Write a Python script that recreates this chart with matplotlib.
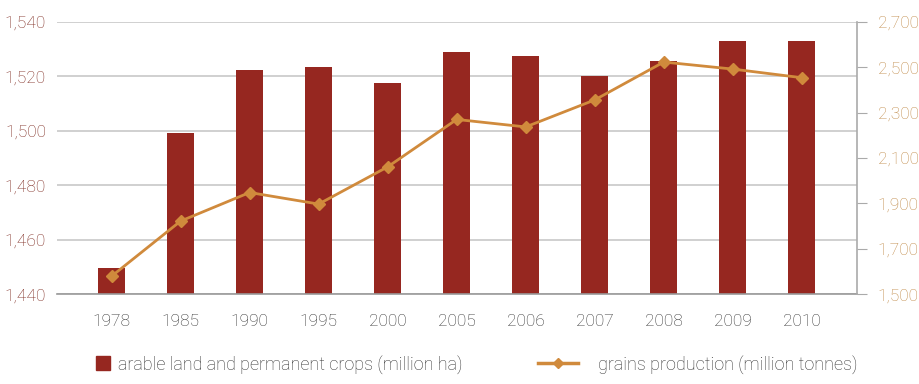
import matplotlib.pyplot as plt
import numpy as np
from matplotlib.lines import Line2D

# Datos
anios = ['1978', '1985', '1990', '1995', '2000', '2005', '2006', '2007', '2008', '2009', '2010']
tierra = [1449.7, 1499.1, 1522.4, 1523.5, 1517.5, 1529.1, 1527.6, 1520.3, 1525.7, 1533.1, 1533.1]
granos = [1579, 1822, 1948, 1897, 2061, 2270, 2237, 2356, 2523, 2492, 2454]

ticks_izq = [1440, 1460, 1480, 1500, 1520, 1540]
ticks_der = [1500, 1700, 1900, 2100, 2300, 2500, 2700]

rojo = '#962720'
naranja = '#D08A3C'
rojo_txt = '#7E2A20'
naranja_txt = '#C08A48'
gris = '#C8C8C8'

plt.rcParams['font.family'] = ['Roboto', 'DejaVu Sans']

fig = plt.figure(figsize=(9.2, 3.84), dpi=100)
ax = fig.add_axes([0.062, 0.234, 0.8695, 0.709])
x = np.arange(len(anios))

ax.bar(x, tierra, width=0.39, color=rojo, zorder=3)
ax.set_ylim(1440, 1540)
ax.set_xlim(-0.79, 10.8)
ax.set_yticks(ticks_izq)
ax.set_yticklabels([f'{v:,}' for v in ticks_izq], color=rojo_txt, fontsize=12.5, fontweight='light')
ax.set_xticks(x)
ax.set_xticklabels(anios, color='#333333', fontsize=12.5, fontweight='light')
ax.tick_params(axis='y', length=0, pad=8)
ax.tick_params(axis='x', length=0, pad=14)
ax.grid(axis='y', color=gris, linewidth=1.2, zorder=0)
for s in ['top', 'left', 'right']:
    ax.spines[s].set_visible(False)
ax.spines['bottom'].set_color('#999999')
ax.spines['bottom'].set_linewidth(1.2)
ax.spines['bottom'].set_zorder(4)

ax2 = ax.twinx()
ax2.plot(x, granos, color=naranja, linewidth=2, marker='D', markersize=6, zorder=5)
ax2.set_ylim(1500, 2700)
ax2.set_yticks(ticks_der)
ax2.set_yticklabels([f'{v:,}' for v in ticks_der], color=naranja_txt, fontsize=12.5, fontweight='light')
ax2.tick_params(axis='y', length=7, color='#AAAAAA', pad=8)
for s in ['top', 'left', 'bottom']:
    ax2.spines[s].set_visible(False)
ax2.spines['right'].set_color('#AAAAAA')
ax2.spines['right'].set_linewidth(1.2)

# Leyendas
h1 = Line2D([], [], color=rojo, marker='s', linestyle='none', markersize=9.5)
h2 = Line2D([], [], color=naranja, linewidth=2.5, marker='D', markersize=5)
prop = {'weight': 'light', 'size': 13}
leg1 = fig.legend([h1], ['arable land and permanent crops (million ha)'], loc='center left',
                  bbox_to_anchor=(0.104, 0.052), frameon=False, prop=prop, borderpad=0,
                  borderaxespad=0, handlelength=0.8, handletextpad=0.45, labelcolor='#333333')
leg2 = fig.legend([h2], ['grains production (million tonnes)'], loc='center left',
                  bbox_to_anchor=(0.585, 0.052), frameon=False, prop=prop, borderpad=0,
                  borderaxespad=0, handlelength=2.2, handletextpad=1.1, labelcolor='#333333')

plt.savefig('out.png', dpi=100)
